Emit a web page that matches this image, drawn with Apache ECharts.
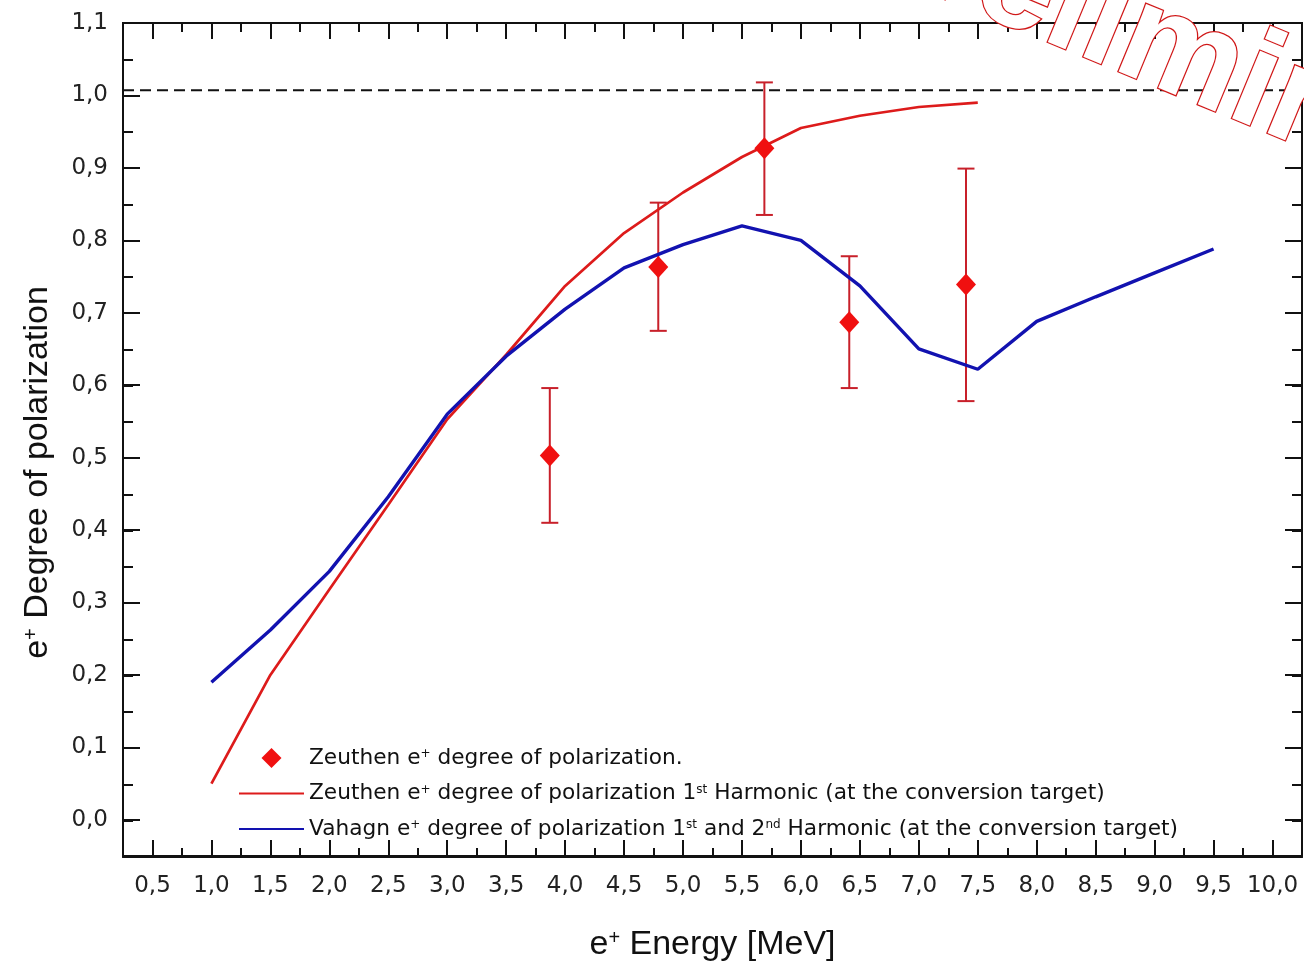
<!DOCTYPE html>
<html>
<head>
<meta charset="utf-8">
<title>e+ degree of polarization</title>
<script src="https://cdn.jsdelivr.net/npm/echarts@6.0.0/dist/echarts.min.js"></script>
<style>
  html, body { margin: 0; padding: 0; background: #fff; }
  #chart { width: 1304px; height: 967px; }
</style>
</head>
<body>
<div id="chart"></div>
<script>
// 数据 —— 数值
var energyZeuthen = [1.0, 1.5, 2.0, 2.5, 3.0, 3.5, 4.0, 4.5, 5.0, 5.5, 6.0, 6.5, 7.0, 7.5];
var polZeuthen = [0.05, 0.20, 0.318, 0.435, 0.553, 0.642, 0.737, 0.81, 0.866, 0.915, 0.955, 0.972, 0.984, 0.99];

var energyVahagn = [1.0, 1.5, 2.0, 2.5, 3.0, 3.5, 4.0, 4.5, 5.0, 5.5, 6.0, 6.5, 7.0, 7.5, 8.0, 8.5, 9.0, 9.5];
var polVahagn = [0.19, 0.262, 0.343, 0.446, 0.56, 0.64, 0.705, 0.762, 0.794, 0.82, 0.80, 0.737, 0.65, 0.622, 0.688, 0.722, 0.755, 0.788];

var energyMeas = [3.87, 4.79, 5.69, 6.41, 7.40];
var polMeas = [0.503, 0.763, 0.927, 0.687, 0.739];
var errLow = [0.410, 0.675, 0.835, 0.596, 0.578];
var errHigh = [0.596, 0.852, 1.018, 0.778, 0.899];

var fullPolLevel = 1.007;   // 虚线

var xTicks = [0.5, 1.0, 1.5, 2.0, 2.5, 3.0, 3.5, 4.0, 4.5, 5.0, 5.5, 6.0, 6.5, 7.0, 7.5, 8.0, 8.5, 9.0, 9.5, 10.0];
var yTicks = [0.0, 0.1, 0.2, 0.3, 0.4, 0.5, 0.6, 0.7, 0.8, 0.9, 1.0, 1.1];

var nameMeas = 'Zeuthen e+ degree of polarization.';
var nameZeuthen = 'Zeuthen e+ degree of polarization 1st Harmonic (at the conversion target)';
var nameVahagn = 'Vahagn e+ degree of polarization 1st and 2nd Harmonic (at the conversion target)';

var legendText = {};
legendText[nameMeas] = 'Zeuthen e{sup|+} degree of polarization.';
legendText[nameZeuthen] = 'Zeuthen e{sup|+} degree of polarization 1{sup|st} Harmonic (at the conversion target)';
legendText[nameVahagn] = 'Vahagn e{sup|+} degree of polarization 1{sup|st} and 2{sup|nd} Harmonic (at the conversion target)';

var X_MIN = 0.25, X_MAX = 10.25, Y_MIN = -0.05, Y_MAX = 1.1;
var AXIS_COLOR = '#111';
var RED = '#dd1b1b', BLUE = '#1212b0';

function comma(v) {
    return v.toFixed(1).replace('.', ',');
}

function xAxisOf(gridIndex, position, major) {
    var a = {
        type: 'value', gridIndex: gridIndex, position: position,
        min: X_MIN, max: X_MAX,
        axisLine: { show: true, onZero: false, lineStyle: { color: AXIS_COLOR, width: 2 } },
        splitLine: { show: false },
        axisLabel: { show: false },
        axisTick: { show: true, inside: true, length: 9, lineStyle: { color: AXIS_COLOR, width: 2 } }
    };
    if (major) {
        a.axisTick.length = 16;
        a.axisTick.customValues = xTicks;
    } else {
        a.interval = 0.25;
    }
    return a;
}

function yAxisOf(gridIndex, position, major) {
    var a = {
        type: 'value', gridIndex: gridIndex, position: position,
        min: Y_MIN, max: Y_MAX,
        axisLine: { show: true, onZero: false, lineStyle: { color: AXIS_COLOR, width: 2 } },
        splitLine: { show: false },
        axisLabel: { show: false },
        axisTick: { show: true, inside: true, length: 10, lineStyle: { color: AXIS_COLOR, width: 2 } }
    };
    if (major) {
        a.axisTick.length = 17;
        a.axisTick.customValues = yTicks;
    } else {
        a.interval = 0.05;
    }
    return a;
}

var xMain = xAxisOf(0, 'bottom', true);
xMain.axisLabel = {
    show: true, customValues: xTicks, formatter: comma, margin: 19,
    fontFamily: 'DejaVu Sans', fontSize: 23, color: '#222'
};
xMain.name = 'e{sup|+} Energy [MeV]';
xMain.nameLocation = 'middle';
xMain.nameGap = 72;
xMain.nameTextStyle = {
    fontFamily: 'Liberation Sans', fontSize: 34, color: '#111',
    rich: { sup: { fontSize: 20, verticalAlign: 'top', lineHeight: 16 } }
};

var yMain = yAxisOf(0, 'left', true);
yMain.axisLabel = {
    show: true, customValues: yTicks, formatter: comma, margin: 15,
    fontFamily: 'DejaVu Sans', fontSize: 23, color: '#222'
};
yMain.name = 'e{sup|+} Degree of polarization';
yMain.nameLocation = 'middle';
yMain.nameGap = 68;
yMain.nameTextStyle = {
    fontFamily: 'Liberation Sans', fontSize: 34, color: '#111', padding: [0, 66, 0, 0],
    rich: { sup: { fontSize: 20, verticalAlign: 'top', lineHeight: 16 } }
};

var gridBox = { left: 123, right: 2, top: 23, bottom: 110, containLabel: false };

var noMarker = { color: 'rgba(0,0,0,0)', borderWidth: 0, opacity: 0 };

var myChart = echarts.init(document.getElementById('chart'), null, { renderer: 'canvas' });

var option = {
    backgroundColor: '#fff',
    animation: false,
    grid: [
        Object.assign({}, gridBox),
        Object.assign({}, gridBox)
    ],
    xAxis: [
        xMain,
        xAxisOf(0, 'top', true),
        xAxisOf(1, 'bottom', false),
        xAxisOf(1, 'top', false)
    ],
    yAxis: [
        yMain,
        yAxisOf(0, 'right', true),
        yAxisOf(1, 'left', false),
        yAxisOf(1, 'right', false)
    ],
    legend: {
        orient: 'vertical',
        left: 238, top: 747, padding: 0,
        itemWidth: 65, itemHeight: 20, itemGap: 13.5,
        symbolKeepAspect: true,
        data: [
            { name: nameMeas, icon: 'path://M10,0L20,10L10,20L0,10Z' },
            { name: nameZeuthen, itemStyle: noMarker },
            { name: nameVahagn, itemStyle: noMarker }
        ],
        formatter: function (name) { return legendText[name]; },
        textStyle: {
            fontFamily: 'DejaVu Sans', fontSize: 21.7, color: '#111', lineHeight: 20,
            rich: { sup: { fontSize: 12, verticalAlign: 'top', lineHeight: 10 } }
        }
    },
    series: [
        {
            name: 'full', type: 'line', xAxisIndex: 0, yAxisIndex: 0,
            data: [[X_MIN, fullPolLevel], [X_MAX, fullPolLevel]],
            symbol: 'none', silent: true,
            lineStyle: { color: '#111', width: 2, type: [11, 6] }
        },
        {
            name: nameZeuthen, type: 'line', xAxisIndex: 0, yAxisIndex: 0,
            data: energyZeuthen.map(function (e, i) { return [e, polZeuthen[i]]; }),
            symbol: 'none',
            itemStyle: { color: RED },
            lineStyle: { color: RED, width: 2.7 }
        },
        {
            name: nameVahagn, type: 'line', xAxisIndex: 0, yAxisIndex: 0,
            data: energyVahagn.map(function (e, i) { return [e, polVahagn[i]]; }),
            symbol: 'none',
            itemStyle: { color: BLUE },
            lineStyle: { color: BLUE, width: 3.4 }
        },
        {
            name: 'errors', type: 'custom', xAxisIndex: 0, yAxisIndex: 0,
            data: energyMeas.map(function (e, i) { return [e, errLow[i], errHigh[i]]; }),
            encode: { x: 0, y: [1, 2] },
            z: 3,
            renderItem: function (params, api) {
                var top = api.coord([api.value(0), api.value(2)]);
                var bot = api.coord([api.value(0), api.value(1)]);
                var hw = 8.5;
                var st = { stroke: '#c8202a', lineWidth: 2 };
                return {
                    type: 'group',
                    children: [
                        { type: 'line', shape: { x1: top[0], y1: top[1], x2: bot[0], y2: bot[1] }, style: st },
                        { type: 'line', shape: { x1: top[0] - hw, y1: top[1], x2: top[0] + hw, y2: top[1] }, style: st },
                        { type: 'line', shape: { x1: bot[0] - hw, y1: bot[1], x2: bot[0] + hw, y2: bot[1] }, style: st }
                    ]
                };
            }
        },
        {
            name: nameMeas, type: 'scatter', xAxisIndex: 0, yAxisIndex: 0,
            data: energyMeas.map(function (e, i) { return [e, polMeas[i]]; }),
            symbol: 'diamond', symbolSize: [20, 22],
            itemStyle: { color: '#f01010', opacity: 1 },
            z: 4
        }
    ],
    graphic: [
        {
            type: 'text', x: 848, y: -82, rotation: -22.5 * Math.PI / 180, z: 100,
            style: {
                text: 'Preliminary',
                font: 'bold 138px "Liberation Sans"',
                fill: '#fff', stroke: '#d01818', lineWidth: 2.5,
                align: 'left', verticalAlign: 'middle'
            }
        }
    ]
};

myChart.setOption(option);
</script>
</body>
</html>
